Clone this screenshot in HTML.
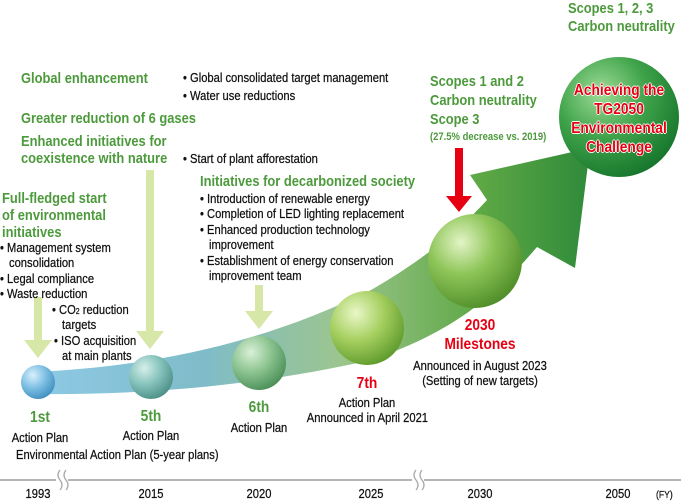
<!DOCTYPE html>
<html><head><meta charset="utf-8"><style>
body{margin:0;width:681px;height:500px;background:#fff;position:relative;overflow:hidden;font-family:"Liberation Sans",sans-serif}
svg{position:absolute;left:0;top:0}
.t{position:absolute;white-space:nowrap;transform:scaleX(.86);transform-origin:0 0;font-size:13px;color:#111;line-height:15px;-webkit-text-stroke:0.25px currentColor}
.c{transform-origin:50% 0}
.g{color:#4c9a3c;font-weight:bold;font-size:15px;line-height:17px;-webkit-text-stroke:0}
.r{color:#e60012;font-weight:bold;font-size:16px;line-height:19px;-webkit-text-stroke:0}
</style></head><body>
<svg width="681" height="500">
<defs>
<linearGradient id="band" x1="0" y1="0" x2="1" y2="0">
<stop offset="0" stop-color="#8ec9e6"/><stop offset=".3" stop-color="#7fbcc8"/><stop offset=".55" stop-color="#9cc58e"/><stop offset=".8" stop-color="#5ea845"/><stop offset="1" stop-color="#2f8a3a"/></linearGradient>
<radialGradient id="s1" cx=".35" cy=".3" r=".75"><stop offset="0" stop-color="#d9f0fb"/><stop offset=".5" stop-color="#7fc0e4"/><stop offset="1" stop-color="#3f8fbf"/></radialGradient>
<radialGradient id="s2" cx=".35" cy=".3" r=".75"><stop offset="0" stop-color="#d6efea"/><stop offset=".5" stop-color="#86c3bc"/><stop offset="1" stop-color="#4a8f86"/></radialGradient>
<radialGradient id="s3" cx=".35" cy=".3" r=".75"><stop offset="0" stop-color="#daf0d8"/><stop offset=".5" stop-color="#8cc490"/><stop offset="1" stop-color="#4b8e58"/></radialGradient>
<radialGradient id="s4" cx=".35" cy=".3" r=".75"><stop offset="0" stop-color="#eaf7c8"/><stop offset=".5" stop-color="#a5cf5f"/><stop offset="1" stop-color="#5e9a2c"/></radialGradient>
<radialGradient id="s5" cx=".35" cy=".3" r=".75"><stop offset="0" stop-color="#e3f4c6"/><stop offset=".45" stop-color="#8fc65a"/><stop offset="1" stop-color="#4f8d28"/></radialGradient>
<radialGradient id="s6" cx=".35" cy=".3" r=".75"><stop offset="0" stop-color="#9fdc97"/><stop offset=".5" stop-color="#3fa34a"/><stop offset="1" stop-color="#16752c"/></radialGradient>
</defs>
<path d="M38,372 C150,366 260,345 371,290 C420,262 460,230 487,200 L470,175 L590,148 L575,268 L537,247 C500,290 460,330 371,360 C260,385 150,395 38,394 Z" fill="url(#band)"/>
<g fill="#d6e7a8">
<rect x="34" y="297" width="8" height="45"/><polygon points="24,340 52,340 38,358"/>
<rect x="146" y="170" width="8" height="163"/><polygon points="136,331 164,331 150,349"/>
<rect x="255" y="285" width="8" height="28"/><polygon points="245,311 273,311 259,329"/>
</g>
<g fill="#e60012"><rect x="455" y="148" width="8" height="50"/><polygon points="446,196 472,196 459,212"/></g>
<circle cx="38" cy="382" r="17" fill="url(#s1)"/>
<circle cx="151" cy="377" r="22" fill="url(#s2)"/>
<circle cx="259" cy="363" r="27" fill="url(#s3)"/>
<circle cx="367" cy="328" r="37" fill="url(#s4)"/>
<circle cx="475" cy="261" r="47" fill="url(#s5)"/>
<circle cx="619" cy="117" r="60" fill="url(#s6)"/>
<line x1="0" y1="480" x2="681" y2="480" stroke="#b5b5b5" stroke-width="2"/>
<rect x="56" y="470" width="12" height="20" fill="#fff"/>
<rect x="412" y="470" width="12" height="20" fill="#fff"/>
<g stroke="#aaa" fill="none" stroke-width="1.3">
<path d="M60,470 q-4,5 0,10 q4,5 0,10"/><path d="M66,470 q-4,5 0,10 q4,5 0,10"/>
<path d="M416,470 q-4,5 0,10 q4,5 0,10"/><path d="M422,470 q-4,5 0,10 q4,5 0,10"/>
</g>
</svg>

<div class="t g" style="left:568px;top:0">Scopes 1, 2, 3</div>
<div class="t g" style="left:568px;top:18px">Carbon neutrality</div>
<div class="t g" style="left:21px;top:70px">Global enhancement</div>
<div class="t" style="left:183px;top:70px">• Global consolidated target management</div>
<div class="t" style="left:183px;top:88px">• Water use reductions</div>
<div class="t g" style="left:21px;top:110px">Greater reduction of 6 gases</div>
<div class="t g" style="left:21px;top:133px">Enhanced initiatives for</div>
<div class="t g" style="left:21px;top:150px">coexistence with nature</div>
<div class="t" style="left:183px;top:151px">• Start of plant afforestation</div>
<div class="t g" style="left:200px;top:173px">Initiatives for decarbonized society</div>
<div class="t" style="left:200px;top:191px">• Introduction of renewable energy</div>
<div class="t" style="left:200px;top:206px">• Completion of LED lighting replacement</div>
<div class="t" style="left:200px;top:222px">• Enhanced production technology</div>
<div class="t" style="left:209px;top:237px">improvement</div>
<div class="t" style="left:200px;top:253px">• Establishment of energy conservation</div>
<div class="t" style="left:209px;top:268px">improvement team</div>
<div class="t g" style="left:2px;top:190px">Full-fledged start</div>
<div class="t g" style="left:2px;top:207px">of environmental</div>
<div class="t g" style="left:2px;top:224px">initiatives</div>
<div class="t" style="left:0;top:240px">• Management system</div>
<div class="t" style="left:9px;top:255px">consolidation</div>
<div class="t" style="left:0;top:271px">• Legal compliance</div>
<div class="t" style="left:0;top:286px">• Waste reduction</div>
<div class="t" style="left:52px;top:302px">• CO<span style="font-size:8px">2</span> reduction</div>
<div class="t" style="left:62px;top:317px">targets</div>
<div class="t" style="left:54px;top:333px">• ISO acquisition</div>
<div class="t" style="left:62px;top:348px">at main plants</div>
<div class="t g" style="left:430px;top:73px">Scopes 1 and 2</div>
<div class="t g" style="left:430px;top:92px">Carbon neutrality</div>
<div class="t g" style="left:430px;top:111px">Scope 3</div>
<div class="t" style="left:430px;top:130px;color:#4c9a3c;font-weight:bold;font-size:11px;-webkit-text-stroke:0">(27.5% decrease vs. 2019)</div>
<div class="t r c" style="left:559px;top:81px;width:120px;text-align:center;color:#e60012;text-shadow:-1px 0 #fff,1px 0 #fff,0 -1px #fff,0 1px #fff;line-height:19px">Achieving the<br>TG2050<br>Environmental<br>Challenge</div>
<div class="t r c" style="left:420px;top:316px;width:120px;text-align:center">2030<br>Milestones</div>
<div class="t c" style="left:400px;top:358px;width:160px;text-align:center">Announced in August 2023<br>(Setting of new targets)</div>
<div class="t r c" style="left:327px;top:374px;width:80px;text-align:center">7th</div>
<div class="t c" style="left:297px;top:395px;width:140px;text-align:center">Action Plan<br>Announced in April 2021</div>
<div class="t g c" style="left:219px;top:399px;width:80px;text-align:center;font-size:16px">6th</div>
<div class="t c" style="left:219px;top:420px;width:80px;text-align:center">Action Plan</div>
<div class="t g c" style="left:111px;top:408px;width:80px;text-align:center;font-size:16px">5th</div>
<div class="t c" style="left:111px;top:428px;width:80px;text-align:center">Action Plan</div>
<div class="t g c" style="left:0;top:409px;width:80px;text-align:center;font-size:16px">1st</div>
<div class="t c" style="left:0;top:430px;width:80px;text-align:center">Action Plan</div>
<div class="t" style="left:16px;top:447px">Environmental Action Plan (5-year plans)</div>
<div class="t c" style="left:8px;top:486px;width:60px;text-align:center">1993</div>
<div class="t c" style="left:121px;top:486px;width:60px;text-align:center">2015</div>
<div class="t c" style="left:229px;top:486px;width:60px;text-align:center">2020</div>
<div class="t c" style="left:341px;top:486px;width:60px;text-align:center">2025</div>
<div class="t c" style="left:450px;top:486px;width:60px;text-align:center">2030</div>
<div class="t c" style="left:588px;top:486px;width:60px;text-align:center">2050</div>
<div class="t" style="left:656px;top:488px;font-size:10px">(FY)</div>
</body></html>
